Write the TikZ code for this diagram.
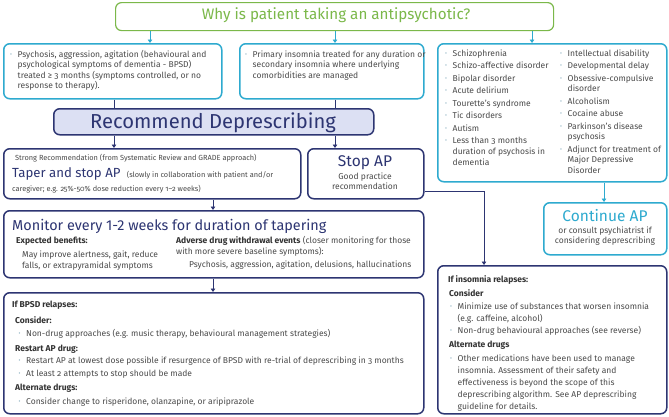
\documentclass[tikz,border=0pt]{standalone}
\usepackage{graphicx}
\usepackage{fontspec}
\setmainfont{Fira Sans}[Numbers=OldStyle]
\usetikzlibrary{arrows.meta}
\definecolor{cyanb}{HTML}{2EAACF}
\definecolor{greenb}{HTML}{7BB84A}
\definecolor{navy}{HTML}{2D3572}
\definecolor{lav}{HTML}{DCE0F3}
\definecolor{txt}{HTML}{4A4A4A}
\definecolor{hd}{HTML}{333333}
\definecolor{bulc}{HTML}{8AAFC0}
\newlength\bw \setlength\bw{7.5pt}
\newcommand\bul{\makebox[\bw][l]{\textcolor{bulc}{\raisebox{0.2ex}{\scalebox{0.7}{\textbullet}}}}}
\newcommand\bodyf{\fontsize{8.5}{10.6}\selectfont}
\newcommand\smf{\fontsize{7.4}{8}\selectfont}
\newcommand\lin{\addfontfeatures{Numbers=Lining}}
\begin{document}
\begin{tikzpicture}[x=1pt,y=-1pt,
  box/.style={rounded corners=6pt, line width=1.5pt, anchor=north west, inner sep=0pt, fill=white},
  cbox/.style={box, draw=cyanb},
  nbox/.style={box, draw=navy},
  gbox/.style={box, draw=greenb, line width=1.2pt},
  tx/.style={anchor=base west, inner sep=0pt, text=txt, font=\bodyf},
  txc/.style={anchor=base, inner sep=0pt, text=txt, font=\bodyf},
  bh/.style={anchor=base west, inner sep=0pt, text=hd, font=\bodyf\bfseries},
  hb/.style={anchor=base, inner sep=0pt, text=navy},
  carr/.style={draw=cyanb, line width=0.9pt, -{Triangle[length=3.5pt,width=4.5pt]}},
  narr/.style={draw=navy, line width=0.9pt, -{Triangle[length=3.5pt,width=4.5pt]}},
  nline/.style={draw=navy, line width=0.9pt}]
\useasboundingbox (0,0) rectangle (669,416);
% boxes
\node[gbox, minimum width=438pt, minimum height=28pt] (top) at (115,2) {};
\node[cbox, minimum width=218pt, minimum height=55pt] (b1) at (3,43) {};
\node[cbox, minimum width=184pt, minimum height=55pt] (b2) at (239,43) {};
\node[cbox, minimum width=229pt, minimum height=138pt] (b3) at (437,43) {};
\node[nbox, fill=lav, minimum width=320pt, minimum height=26pt] (rec) at (53,108) {};
\node[nbox, minimum width=297pt, minimum height=50pt] (tap) at (3,148) {};
\node[nbox, minimum width=116pt, minimum height=50pt] (sap) at (307,148) {};
\node[nbox, minimum width=420pt, minimum height=67pt] (mon) at (3,210) {};
\node[nbox, minimum width=420pt, minimum height=121pt] (bps) at (3,292) {};
\node[cbox, minimum width=123pt, minimum height=52pt] (con) at (543,202) {};
\node[nbox, minimum width=229pt, minimum height=148pt] (ins) at (437,265) {};
% column coordinates
\coordinate (xa) at (150,0);
\coordinate (xb) at (335,0);
\coordinate (xc) at (532,0);
\coordinate (xd) at (114,0);
\coordinate (xe) at (213,0);
\coordinate (xf) at (604,0);
\coordinate (xg) at (484,0);
\coordinate (ys) at (0,191);
% connectors
\draw[carr] (top.south -| xa) -- (b1.north -| xa);
\draw[carr] (top.south -| xb) -- (b2.north -| xb);
\draw[carr] (top.south -| xc) -- (b3.north -| xc);
\draw[nline] (b1.south -| xd) -- (rec.north -| xd);
\draw[nline] (b2.south -| xb) -- (rec.north -| xb);
\draw[narr] (rec.south -| xd) -- (tap.north -| xd);
\draw[narr] (rec.south -| xb) -- (sap.north -| xb);
\draw[narr] (tap.south -| xe) -- (mon.north -| xe);
\draw[narr] (mon.south -| xe) -- (bps.north -| xe);
\draw[carr] (b3.south -| xf) -- (con.north -| xf);
\draw[narr] (sap.east |- ys) -| (ins.north -| xg);
% title
\node[anchor=base, inner sep=0pt, text=greenb, font=\fontsize{15.2}{15}\selectfont] (tt) at (336,19.5) {Why is patient taking an antipsychotic?};
% box 1
\node[tx] (a1) at (10,57) {\bul Psychosis, aggression, agitation (behavioural and};
\node[tx] (a2) at (17.5,67.5) {psychological symptoms of dementia - BPSD)};
\node[tx] (a3) at (17.5,78) {treated ≥ 3 months (symptoms controlled, or no};
\node[tx] (a4) at (17.5,88.5) {response to therapy).};
% box 2
\node[tx] (c1) at (245,57) {\bul Primary insomnia treated for any duration or};
\node[tx] (c2) at (252.5,67.5) {secondary insomnia where underlying};
\node[tx] (c3) at (252.5,78) {comorbidities are managed};
% box 3 left
\node[tx] (l1) at (445,56) {\bul Schizophrenia};
\node[tx] (l2) at (445,68.5) {\bul Schizo-affective disorder};
\node[tx] (l3) at (445,81) {\bul Bipolar disorder};
\node[tx] (l4) at (445,93.5) {\bul Acute delirium};
\node[tx] (l5) at (445,106) {\bul Tourette’s syndrome};
\node[tx] (l6) at (445,118.5) {\bul Tic disorders};
\node[tx] (l7) at (445,131) {\bul Autism};
\node[tx] (l8) at (445,143.5) {\bul Less than 3 months};
\node[tx] (l9) at (452.5,154.5) {duration of psychosis in};
\node[tx] (l10) at (452.5,165.5) {dementia};
% box 3 right
\node[tx] (r1) at (560,56) {\bul Intellectual disability};
\node[tx] (r2) at (560,68.5) {\bul Developmental delay};
\node[tx] (r3) at (560,81) {\bul Obsessive-compulsive};
\node[tx] (r4) at (567.5,91.5) {disorder};
\node[tx] (r5) at (560,104) {\bul Alcoholism};
\node[tx] (r6) at (560,116.5) {\bul Cocaine abuse};
\node[tx] (r7) at (560,129) {\bul Parkinson’s disease};
\node[tx] (r8) at (567.5,139.5) {psychosis};
\node[tx] (r9) at (560,152) {\bul Adjunct for treatment of};
\node[tx] (r10) at (567.5,162.5) {Major Depressive};
\node[tx] (r11) at (567.5,173) {Disorder};
% recommend
\node[hb, font=\fontsize{20.2}{20}\selectfont] (rect) at (213,128) {Recommend Deprescribing};
% taper
\node[tx, font=\smf] (p1) at (15,160) {Strong Recommendation (from Systematic Review and GRADE approach)};
\node[anchor=base west, inner sep=0pt, text=navy, font=\fontsize{13.2}{13}\selectfont] (p2) at (12,177) {Taper and stop AP};
\node[tx, font=\smf] (p3) at ([xshift=6pt]p2.base east) {(slowly in collaboration with patient and/or};
\node[tx, font=\smf] (p4) at (12,191) {caregiver; e.g. 25\%-50\% dose reduction every 1–2 weeks)};
% stop AP
\node[hb, font=\fontsize{15.5}{15}\selectfont] (s1) at (365,166) {Stop AP};
\node[txc] (s2) at (365,179) {Good practice};
\node[txc] (s3) at (365,189.5) {recommendation};
% monitor
\node[anchor=base west, inner sep=0pt, text=navy, font=\fontsize{14.4}{14}\selectfont\lin] (m1) at (12,230) {Monitor every 1-2 weeks for duration of tapering};
\node[bh] (m2) at (16,243) {Expected benefits:};
\node[tx] (m3) at (22,257.5) {May improve alertness, gait, reduce};
\node[tx] (m4) at (22,268) {falls, or extrapyramidal symptoms};
\node[tx] (m5) at (176,243) {\textbf{\color{hd}Adverse drug withdrawal events} (closer monitoring for those};
\node[tx] (m6) at (176,254) {with more severe baseline symptoms):};
\node[tx] (m7) at (189,267) {Psychosis, aggression, agitation, delusions, hallucinations};
% BPSD
\node[bh] (d1) at (12,307) {If BPSD relapses:};
\node[bh] (d2) at (15,323) {Consider:};
\node[tx] (d3) at (18.5,336) {\bul Non-drug approaches (e.g. music therapy, behavioural management strategies)};
\node[bh] (d4) at (15,351) {Restart AP drug:};
\node[tx] (d5) at (18.5,363) {\bul Restart AP at lowest dose possible if resurgence of BPSD with re-trial of deprescribing in 3 months};
\node[tx] (d6) at (18.5,376) {\bul At least 2 attempts to stop should be made};
\node[bh] (d7) at (15,390) {Alternate drugs:};
\node[tx] (d8) at (18.5,404) {\bul Consider change to risperidone, olanzapine, or aripiprazole};
% continue AP
\node[anchor=base, inner sep=0pt, text=cyanb, font=\fontsize{15.5}{15}\selectfont] (k1) at (605,221) {Continue AP};
\node[txc] (k2) at (605,233) {or consult psychiatrist if};
\node[txc] (k3) at (605,243.5) {considering deprescribing};
% insomnia
\node[bh] (i1) at (448,282) {If insomnia relapses:};
\node[bh] (i2) at (449,296) {Consider};
\node[tx] (i3) at (450,309) {\bul Minimize use of substances that worsen insomnia};
\node[tx] (i4) at (457.5,321) {(e.g. caffeine, alcohol)};
\node[tx] (i5) at (450,333) {\bul Non-drug behavioural approaches (see reverse)};
\node[bh] (i6) at (449,347) {Alternate drugs};
\node[tx] (i7) at (450,361) {\bul Other medications have been used to manage};
\node[tx] (i8) at (457.5,373) {insomnia. Assessment of their safety and};
\node[tx] (i9) at (457.5,385) {effectiveness is beyond the scope of this};
\node[tx] (i10) at (457.5,397) {deprescribing algorithm. See AP deprescribing};
\node[tx] (i11) at (457.5,409) {guideline for details.};
\end{tikzpicture}
\end{document}
